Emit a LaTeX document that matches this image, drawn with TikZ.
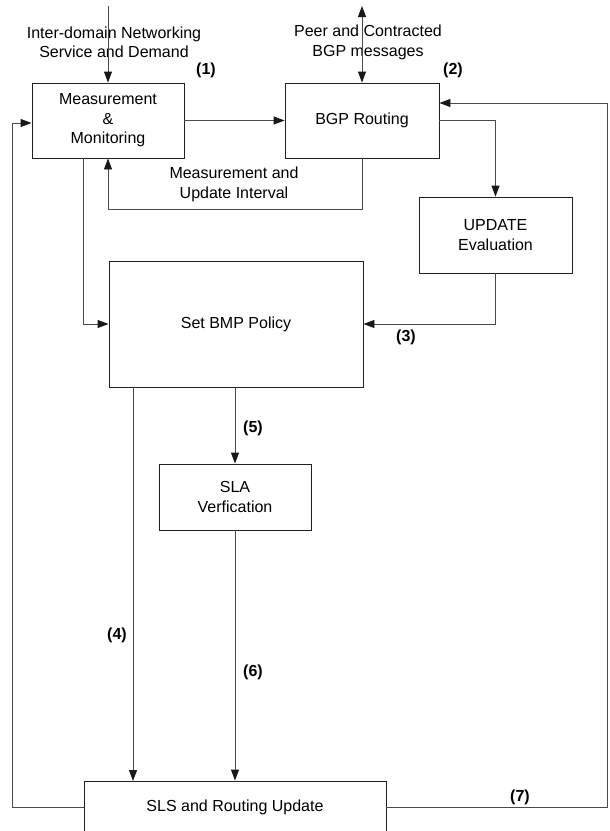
\documentclass[tikz,border=0pt]{standalone}
\usepackage{fontspec}
\setmainfont{Liberation Sans}
\usetikzlibrary{arrows.meta}
\definecolor{linec}{HTML}{4A4A4A}
\definecolor{boxc}{HTML}{202020}
\begin{document}
\begin{tikzpicture}[x=1pt,y=-1pt,
  box/.style={draw=boxc,line width=0.9pt,rectangle,inner sep=0pt,align=center,
    font=\fontsize{16}{19.5}\selectfont},
  tip/.tip={Triangle[length=11pt,width=8pt,color=black!90]},
  conn/.style={draw=linec,line width=0.9pt,-tip},
  lbl/.style={align=center,inner sep=0pt,font=\fontsize{16}{19.5}\selectfont},
  num/.style={inner sep=0pt,font=\fontsize{16}{19.5}\selectfont\bfseries}]
\clip (0,0) rectangle (610,831);
\fill[white] (0,0) rectangle (610,831);
\node[box,minimum width=152pt,minimum height=75pt] (meas) at (108,120.5) {Measurement\\\&\\Monitoring};
\node[box,minimum width=154pt,minimum height=75pt] (bgp) at (362,120.5) {BGP Routing};
\node[box,minimum width=153pt,minimum height=76pt] (upd) at (495.5,235) {UPDATE\\Evaluation};
\node[box,minimum width=254pt,minimum height=126pt] (bmp) at (236,324) {Set BMP Policy};
\node[box,minimum width=152pt,minimum height=66pt] (sla) at (235,497) {SLA\\Verfication};
\node[box,minimum width=302pt,minimum height=52pt] (sls) at (235,807) {SLS and Routing Update};

\coordinate (in) at (108,6);
\coordinate (peer) at (362,6);
\node[lbl] (tin) at (114,42.5) {Inter-domain Networking\\Service and Demand};
\node[lbl] (tpeer) at (368,42.5) {Peer and Contracted\\BGP messages};
\node[lbl] (tfb) at (234,184.5) {Measurement and\\Update Interval};
\node[num] (n1) at (206,70) {(1)};
\node[num] (n2) at (453,70) {(2)};
\node[num] (n3) at (406,337) {(3)};
\node[num] (n4) at (117,635) {(4)};
\node[num] (n5) at (253,428) {(5)};
\node[num] (n6) at (253,672) {(6)};
\node[num] (n7) at (520,797) {(7)};

\draw[conn] (in) -- (meas.north);
\draw[conn,tip-tip] (peer) -- (bgp.north);
\draw[conn] (meas.east) -- (bgp.west);
\draw[conn] (bgp.east) -| (upd.north);
\draw[conn] (bgp.south) -- (362,209) -| (meas.south);
\draw[conn] (sls.east) -- (607,807) |- (bgp.east |- 0,103);
\draw[conn] (sls.west) -- (12,807) |- (meas.west |- 0,123);
\draw[conn] (83,158) |- (bmp.west);
\draw[conn] (upd.south) |- (bmp.east);
\draw[conn] (133,387) -- (133,781);
\draw[conn] (bmp.south -| sla.north) -- (sla.north);
\draw[conn] (sla.south) -- (sls.north -| sla.south);
\end{tikzpicture}
\end{document}
